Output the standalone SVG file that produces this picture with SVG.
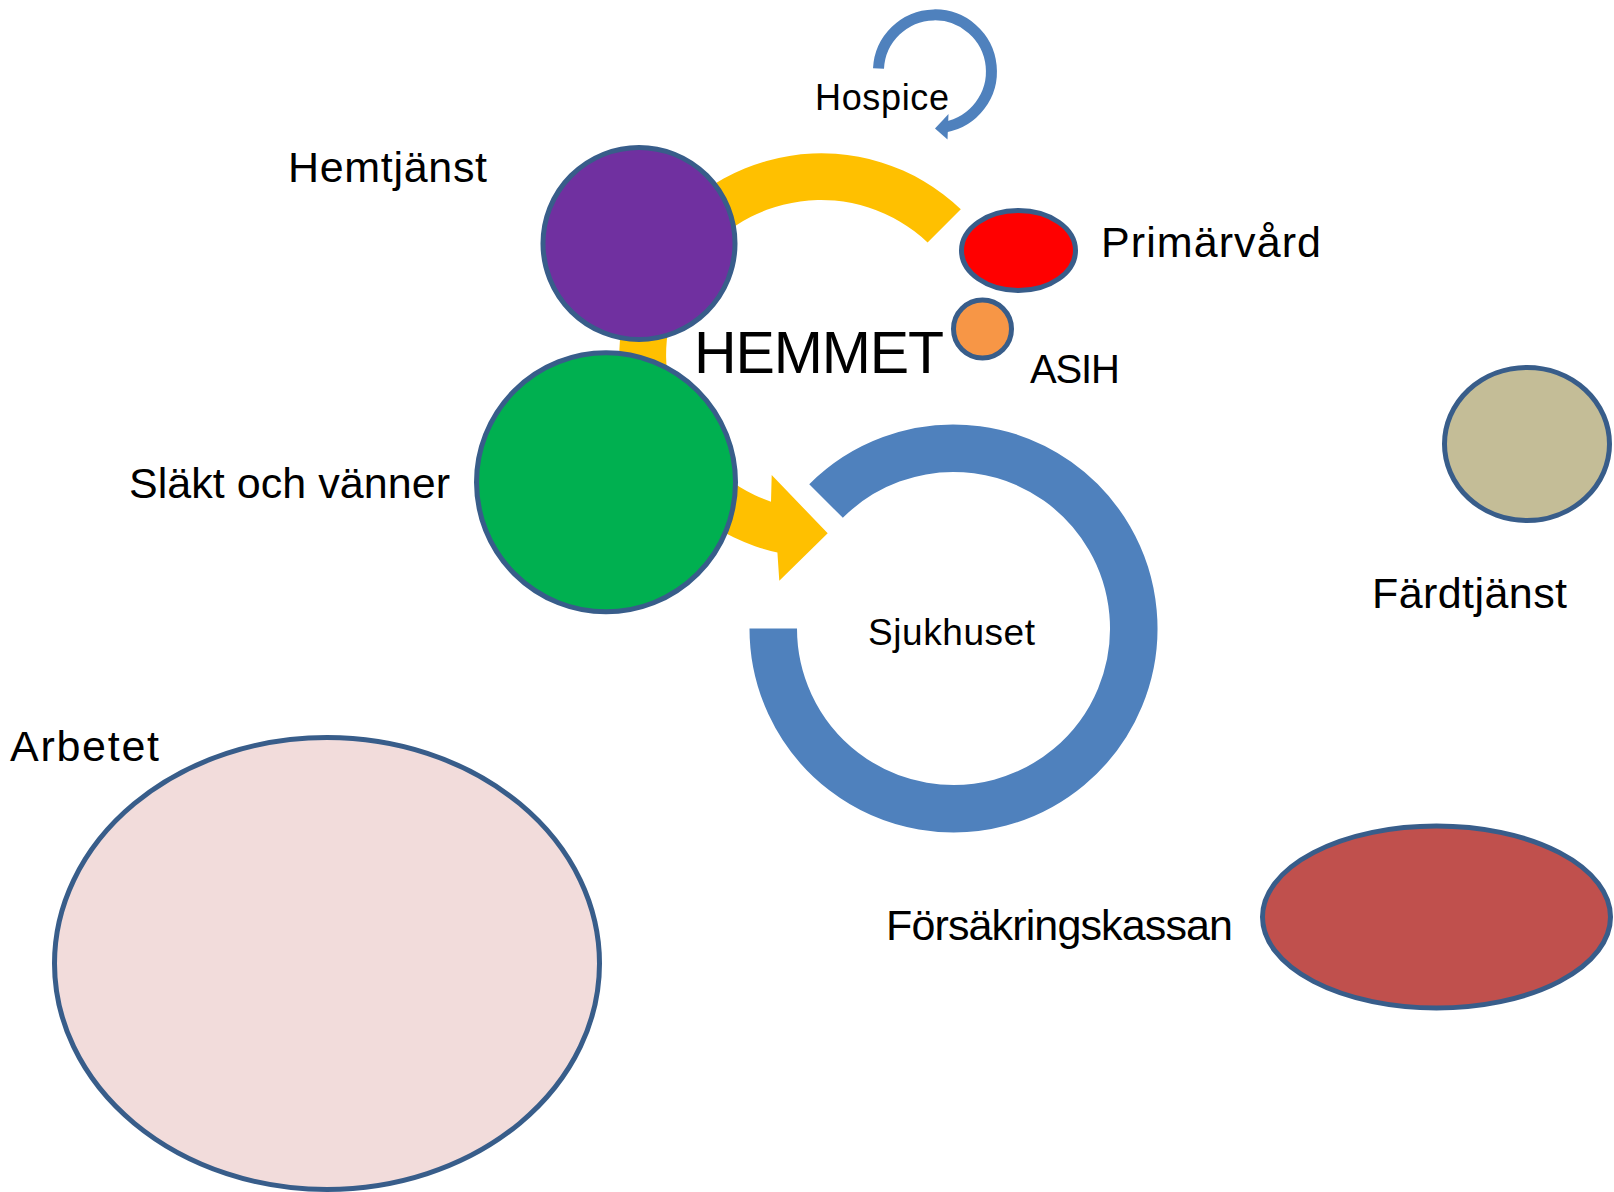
<svg xmlns="http://www.w3.org/2000/svg" width="1614" height="1192" viewBox="0 0 1614 1192">
<style>
.lbl{font-family:"Liberation Sans",Arial,sans-serif;fill:#000000;}
.big{font-size:43px;}
.node{stroke:#385D8A;stroke-width:5;}
</style>
<rect x="0" y="0" width="1614" height="1192" fill="#FFFFFF"/>
<g id="connectors">
  <path id="yellow-arrow" fill="#FFC000" d="M 960.8 209.2 A 202 202 0 1 0 777.4 552.5 L 779.3 580.7 L 827.7 533.3 L 771.7 475 L 771 501.7 A 155 155 0 1 1 927.6 242.4 Z"/>
  <g id="hospice-arrow">
    <path d="M 878.5 68.5 A 56.5 56.5 0 1 1 944.8 127" fill="none" stroke="#4F81BD" stroke-width="11"/>
    <polygon points="948.5,114 935,128.5 947.5,139.5" fill="#4F81BD"/>
  </g>
</g>
<g id="hospice">
  <text class="lbl" x="815" y="110" font-size="36" textLength="134">Hospice</text>
</g>
<g id="hemtjanst">
  <circle class="node" cx="639" cy="243.5" r="96" fill="#7030A0"/>
  <text class="lbl big" x="288" y="182" textLength="199">Hemtjänst</text>
</g>
<g id="slakt">
  <circle class="node" cx="606" cy="482.3" r="129.5" fill="#00B050"/>
  <text class="lbl big" x="129" y="498" textLength="321">Släkt och vänner</text>
</g>
<g id="hemmet">
  <text class="lbl" x="694" y="373" font-size="59" textLength="250">HEMMET</text>
</g>
<g id="primarvard">
  <ellipse class="node" cx="1018.5" cy="250.5" rx="57" ry="40" fill="#FF0000"/>
  <text class="lbl big" x="1101" y="257" textLength="220">Primärvård</text>
</g>
<g id="asih">
  <circle class="node" cx="982.5" cy="329" r="29" fill="#F79646"/>
  <text class="lbl" x="1030" y="383" font-size="40" textLength="90">ASIH</text>
</g>
<g id="sjukhuset">
  <path d="M 826.04 501.04 A 180.25 180.25 0 1 1 773.25 628.5" fill="none" stroke="#4F81BD" stroke-width="47.5"/>
  <text class="lbl" x="868" y="645" font-size="37" textLength="167">Sjukhuset</text>
</g>
<g id="fardtjanst">
  <ellipse class="node" cx="1527" cy="444" rx="82.5" ry="76.5" fill="#C4BD97"/>
  <text class="lbl big" x="1372" y="608" textLength="195">Färdtjänst</text>
</g>
<g id="arbetet">
  <ellipse class="node" cx="327" cy="963.5" rx="272.5" ry="226" fill="#F2DCDB"/>
  <text class="lbl big" x="10" y="761" textLength="149">Arbetet</text>
</g>
<g id="forsakringskassan">
  <ellipse class="node" cx="1436.5" cy="917" rx="174" ry="91" fill="#C0504D"/>
  <text class="lbl big" x="886" y="940" textLength="347">Försäkringskassan</text>
</g>
</svg>
